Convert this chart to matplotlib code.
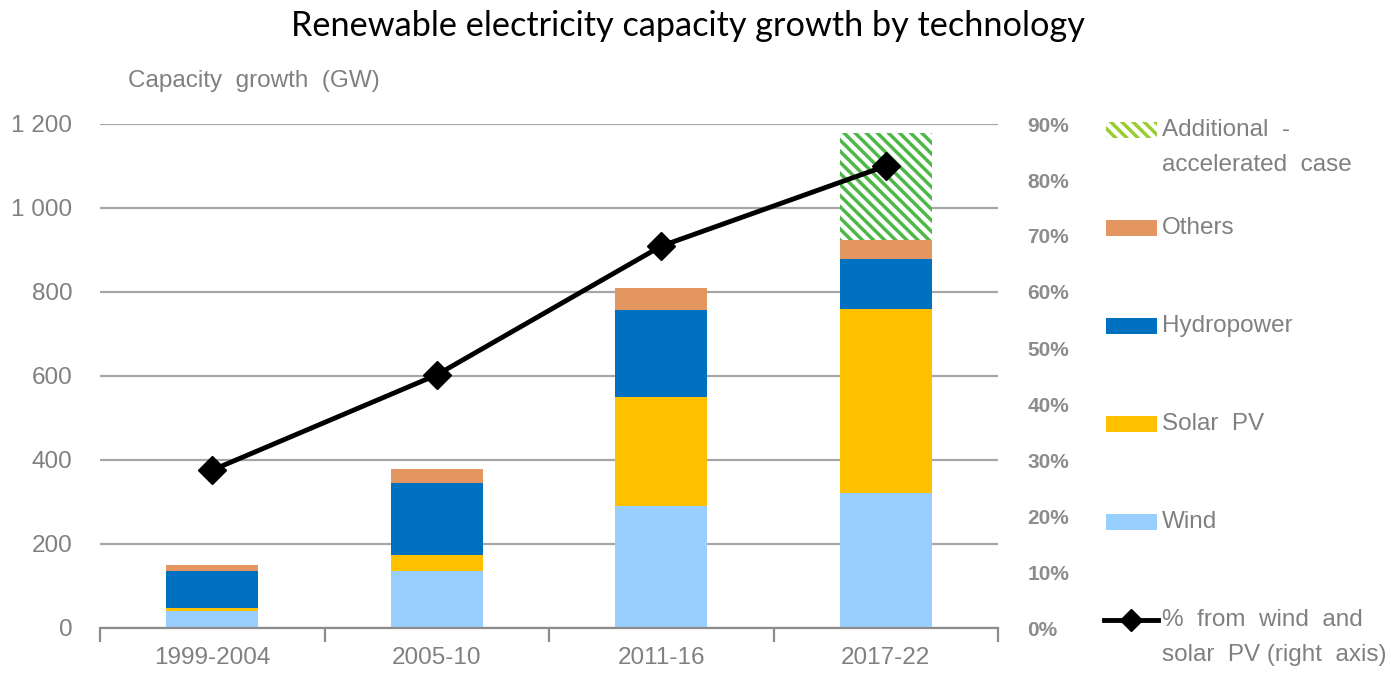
import numpy as np
import matplotlib.pyplot as plt
from matplotlib.patches import Rectangle
from matplotlib.lines import Line2D

# data (GW)
periods = ["1999-2004", "2005-10", "2011-16", "2017-22"]
wind = [41, 136, 290, 321]
solar_pv = [7, 39, 260, 438]
hydropower = [88, 171, 208, 120]
others = [13, 32, 52, 45]
additional = [0, 0, 0, 254]
share_wind_solar = [0.282, 0.452, 0.682, 0.825]

left_ticks = [0, 200, 400, 600, 800, 1000, 1200]
left_labels = ["0", "200", "400", "600", "800", "1 000", "1 200"]
right_ticks = np.arange(0, 0.91, 0.1)

c_wind = "#99CFFF"
c_solar = "#FFC000"
c_hydro = "#0070C0"
c_others = "#E39660"
c_add = "#4DB848"
grey = "#808080"
arial = ["Liberation Sans", "DejaVu Sans"]

plt.rcParams["hatch.linewidth"] = 2.5

fig = plt.figure(figsize=(13.91, 6.73), dpi=100)
ax = fig.add_axes([100 / 1391, 1 - 628 / 673, 898 / 1391, 504 / 673])
ax2 = ax.twinx()

x = np.arange(len(periods))
w = 0.41
bottom = np.zeros(len(periods))
for vals, col in [(wind, c_wind), (solar_pv, c_solar), (hydropower, c_hydro), (others, c_others)]:
    ax.bar(x, vals, w, bottom=bottom, color=col, zorder=2)
    bottom += np.array(vals)
ax.bar(x, additional, w, bottom=bottom, color="white", edgecolor=c_add,
       hatch="\\\\\\", linewidth=0, zorder=2)

ax2.plot(x, share_wind_solar, color="black", lw=3.5, marker="D", ms=14, zorder=3)

ax.set_xlim(-0.5, 3.5)
ax.set_ylim(0, 1200)
ax2.set_ylim(0, 0.9)

ax.set_yticks(left_ticks)
ax.set_yticklabels(left_labels)
ax.yaxis.grid(True, color="#A6A6A6", lw=1.6, zorder=0)
ax.set_axisbelow(True)
ax.tick_params(axis="y", length=0, pad=20, labelsize=17.5, labelcolor=grey)
for lab in ax.get_yticklabels():
    lab.set_family(arial)

ax.set_xticks(x)
ax.set_xticklabels(periods, family=arial, fontsize=17.5, color=grey)
ax.set_xticks(np.arange(-0.5, 3.6, 1), minor=True)
ax.tick_params(axis="x", which="major", length=0, pad=14)
ax.tick_params(axis="x", which="minor", length=10, width=1.6, color="#8C8C8C")

ax2.set_yticks(right_ticks)
ax2.set_yticklabels([f"{int(round(t * 100))}%" for t in right_ticks])
ax2.tick_params(axis="y", length=0, pad=21, labelsize=15, labelcolor="#8C8C8C")
for lab in ax2.get_yticklabels():
    lab.set_family(arial)
    lab.set_fontweight("bold")

for a in (ax, ax2):
    for s in ["top", "left", "right"]:
        a.spines[s].set_visible(False)
ax.spines["bottom"].set_color("#8C8C8C")
ax.spines["bottom"].set_linewidth(1.6)
ax2.spines["bottom"].set_visible(False)

fig.text(688 / 1391, 1 - 26 / 673, "Renewable electricity capacity growth by technology",
         ha="center", va="center", fontsize=24.7, family=["Lato", "DejaVu Sans"], color="black")
fig.text(128 / 1391, 1 - 81 / 673, "Capacity  growth  (GW)", ha="left", va="center",
         fontsize=17.5, family=arial, color=grey)

# legend drawn by hand, Excel style
def px(xp, yp):
    return xp / 1391, 1 - yp / 673

legend_rows = [
    ("Additional  -\naccelerated  case", "hatch", 130),
    ("Others", c_others, 228),
    ("Hydropower", c_hydro, 326),
    ("Solar  PV", c_solar, 424),
    ("Wind", c_wind, 522),
    ("%  from  wind  and\nsolar  PV (right  axis)", "line", 620),
]
for label, kind, yc in legend_rows:
    if kind == "line":
        x0, y0 = px(1104, yc)
        x1, _ = px(1158, yc)
        fig.add_artist(Line2D([x0, x1], [y0, y0], color="black", lw=3.5,
                              transform=fig.transFigure))
        fig.add_artist(Line2D([(x0 + x1) / 2], [y0], color="black", marker="D", ms=11,
                              transform=fig.transFigure))
    else:
        x0, y0 = px(1106, yc + 8)
        wd = 51 / 1391
        ht = 16 / 673
        if kind == "hatch":
            r = Rectangle((x0, y0), wd, ht, transform=fig.transFigure, facecolor="white",
                          edgecolor="#9ACD32", hatch="\\\\\\", linewidth=0)
        else:
            r = Rectangle((x0, y0), wd, ht, transform=fig.transFigure, facecolor=kind,
                          linewidth=0)
        fig.add_artist(r)
    tx, ty = px(1162, yc)
    fig.text(tx, ty, label.split("\n")[0], ha="left", va="center", fontsize=17.5,
             family=arial, color=grey)
    if "\n" in label:
        tx, ty = px(1162, yc + 35)
        fig.text(tx, ty, label.split("\n")[1], ha="left", va="center", fontsize=17.5,
                 family=arial, color=grey)

fig.savefig("out.png", dpi=100)
